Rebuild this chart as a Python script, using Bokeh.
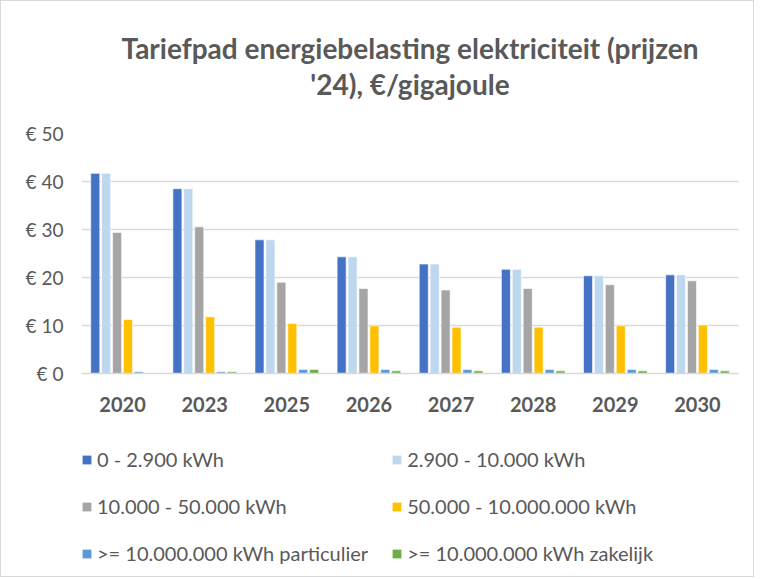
from bokeh.plotting import figure
from bokeh.models import FactorRange, Range1d, Legend, LegendItem, Title, ColumnDataSource
from bokeh.layouts import column
from bokeh.transform import dodge
from bokeh.embed import file_html
from bokeh.resources import INLINE

years = ["2020", "2023", "2025", "2026", "2027", "2028", "2029", "2030"]
series_names = [
    "0 - 2.900 kWh",
    "2.900 - 10.000 kWh",
    "10.000 - 50.000 kWh",
    "50.000 - 10.000.000 kWh",
    ">= 10.000.000 kWh particulier",
    ">= 10.000.000 kWh zakelijk",
]
s1 = [41.7, 38.5, 27.85, 24.3, 22.8, 21.7, 20.35, 20.55]
s2 = [41.7, 38.5, 27.85, 24.3, 22.8, 21.7, 20.35, 20.55]
s3 = [29.4, 30.55, 19.0, 17.7, 17.4, 17.7, 18.5, 19.3]
s4 = [11.25, 11.8, 10.4, 9.93, 9.65, 9.65, 9.93, 10.1]
s5 = [0.35, 0.35, 0.83, 0.83, 0.83, 0.83, 0.83, 0.83]
s6 = [0.0, 0.35, 0.83, 0.55, 0.55, 0.55, 0.55, 0.55]
y_ticks = [0, 10, 20, 30, 40, 50]
y_tick_labels = ["€ 0", "€ 10", "€ 20", "€ 30", "€ 40", "€ 50"]
title_lines = ["Tariefpad energiebelasting elektriciteit (prijzen", "'24), €/gigajoule"]

colors = ["#4472C4", "#BDD7EE", "#A5A5A5", "#FFC000", "#5B9BD5", "#70AD47"]
FONT = "Lato"
TXT = "#595959"
keys = ["s1", "s2", "s3", "s4", "s5", "s6"]

src = ColumnDataSource(dict(year=years, s1=s1, s2=s2, s3=s3, s4=s4, s5=s5, s6=s6))

p = figure(frame_width=657, frame_height=240, x_range=FactorRange(*years), y_range=Range1d(0, 50),
           output_backend="svg", toolbar_location=None,
           min_border_left=80, min_border_right=15, min_border_top=132, min_border_bottom=58)

spacer = Title(text=" ", text_font=FONT, text_font_size="10px", standoff=19)
t2 = Title(text=title_lines[1], align="center", text_font=FONT, text_font_size="28px",
           text_color=TXT, text_font_style="bold", standoff=0)
t1 = Title(text=title_lines[0], align="center", text_font=FONT,
           text_font_size="28px", text_color=TXT, text_font_style="bold", standoff=0)
p.add_layout(spacer, "above")
p.add_layout(t2, "above")
p.add_layout(t1, "above")

slot = 0.133
bw = 0.11
for i, key in enumerate(keys):
    off = (i - 2.5) * slot
    p.vbar(x=dodge("year", off, range=p.x_range), top=key, width=bw, source=src,
           fill_color=colors[i], line_color="white", line_width=0.6)

p.xgrid.visible = False
p.ygrid.grid_line_color = "#d9d9d9"
p.ygrid.grid_line_width = 1.5
p.yaxis.ticker = y_ticks
p.yaxis.major_label_overrides = dict(zip(y_ticks, y_tick_labels))
p.yaxis.axis_line_color = None
p.yaxis.major_tick_line_color = None
p.yaxis.minor_tick_line_color = None
p.yaxis.major_label_text_font = FONT
p.yaxis.major_label_text_font_size = "19px"
p.yaxis.major_label_text_color = TXT
p.yaxis.major_label_standoff = 12

p.xaxis.axis_line_color = "#d9d9d9"
p.xaxis.axis_line_width = 1.5
p.xaxis.major_tick_line_color = None
p.xaxis.minor_tick_line_color = None
p.xaxis.major_label_text_font = FONT
p.xaxis.major_label_text_font_size = "20px"
p.xaxis.major_label_text_font_style = "bold"
p.xaxis.major_label_text_color = TXT
p.xaxis.major_label_standoff = 17
p.outline_line_color = None

# legend in its own strip below the chart (swatch renderers sit outside the visible range)
lg = figure(width=752, height=145, x_range=Range1d(0, 1), y_range=Range1d(0, 1),
            output_backend="svg", toolbar_location=None,
            x_axis_location=None, y_axis_location=None,
            min_border_left=0, min_border_right=0, min_border_top=0, min_border_bottom=0)
lg.grid.visible = False
lg.outline_line_color = None
swatch_src = ColumnDataSource(dict(x=[-5], top=[-5]))
legend_renderers = []
for i in range(len(keys)):
    legend_renderers.append(lg.vbar(x="x", top="top", width=0.1, source=swatch_src,
                                    fill_color=colors[i], line_color=None))

order = [0, 2, 4, 1, 3, 5]  # column-major fill -> row-major appearance
legend = Legend(items=[LegendItem(label=series_names[k], renderers=[legend_renderers[k]]) for k in order],
                nrows=3, location=(0, 11), glyph_width=11, glyph_height=11, label_height=21,
                label_standoff=5, label_width=270, spacing=23, padding=0, margin=0,
                label_text_font=FONT, label_text_font_size="20px", label_text_color=TXT,
                border_line_color=None, background_fill_alpha=0)
lg.add_layout(legend, "center")

layout = column(p, lg, spacing=0, styles={"border": "1px solid #d9d9d9"})

open("out.html", "w").write(file_html(layout, INLINE))
